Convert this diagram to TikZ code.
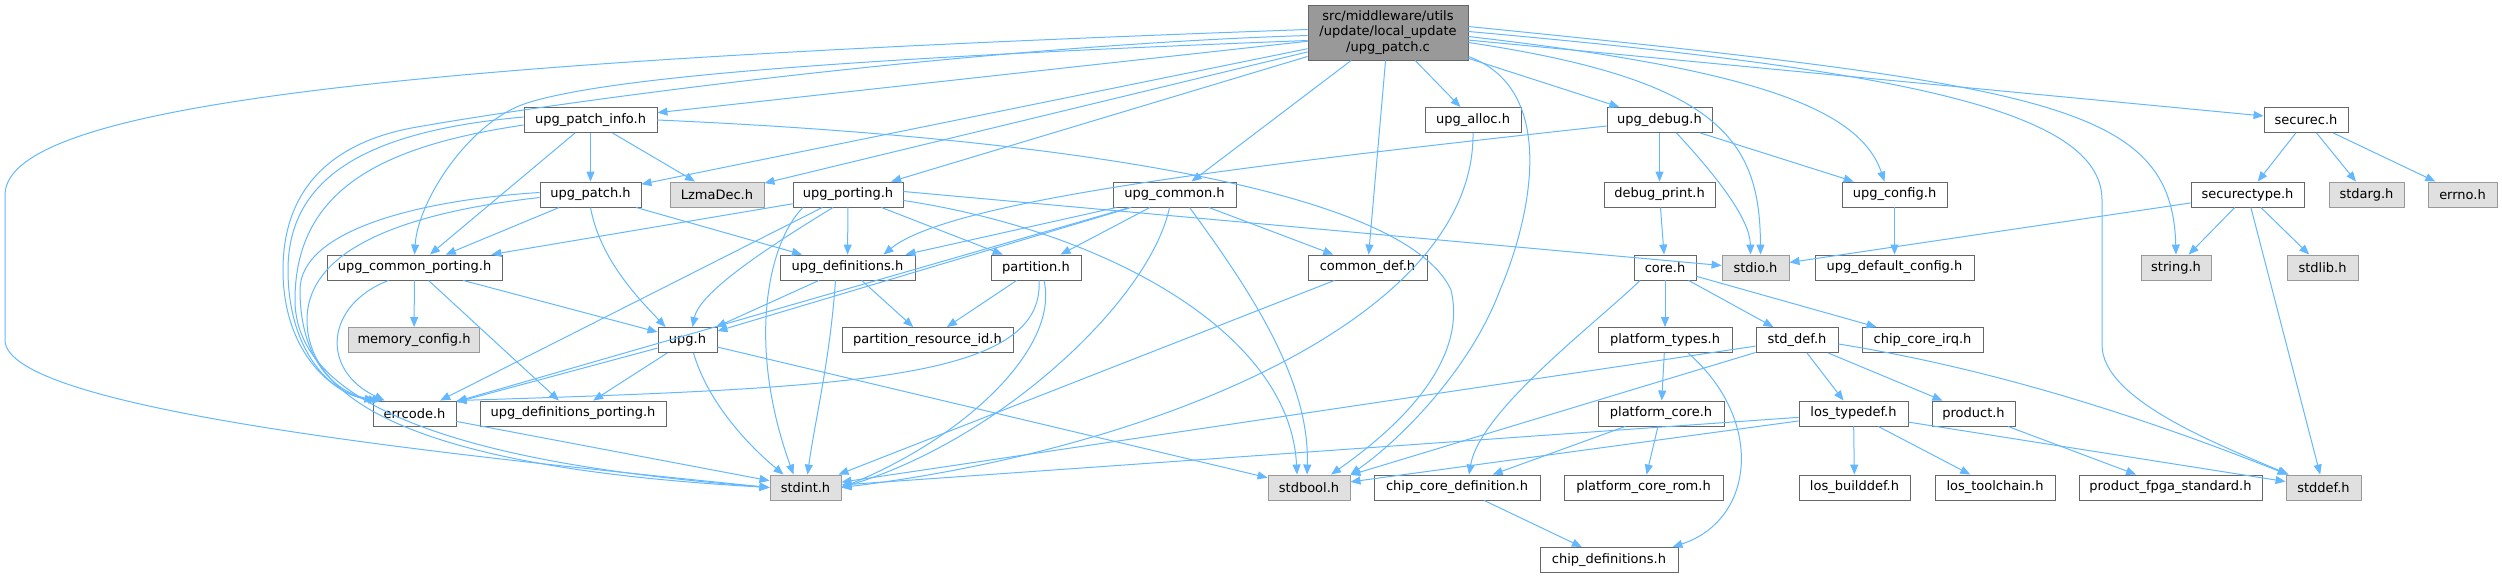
\documentclass[tikz,border=0pt]{standalone}
\usepackage{fontspec}
\setmainfont{DejaVu Sans}
\usetikzlibrary{arrows.meta,calc}
\definecolor{edgeblue}{HTML}{63B8FF}
\definecolor{boxline}{HTML}{666666}
\definecolor{sysfill}{HTML}{E0E0E0}
\definecolor{sysline}{HTML}{999999}
\definecolor{rootfill}{HTML}{999999}
\begin{document}
\begin{tikzpicture}[x=1pt,y=-1pt,
  lnk/.style={draw=edgeblue, line width=1pt, -{Triangle[length=10pt,width=8pt]}},
  hdr/.style={draw=boxline, line width=0.9pt, fill=white, minimum height=25pt, minimum width=#1, inner sep=0pt, font=\fontsize{13}{15}\selectfont, text=black},
  sys/.style={hdr=#1, fill=sysfill, draw=sysline},
]
\useasboundingbox (0,0) rectangle (2502,579);
% root
\node[hdr=160, fill=rootfill, minimum height=55pt, align=center, font=\fontsize{13}{15.5}\selectfont] (root) at (1388,32.5) {src/middleware/utils\\/update/local\_update\\/upg\_patch.c};
% row 1
\node[hdr=133] (pinfo) at (590.5,120) {upg\_patch\_info.h};
\node[hdr=96] (alloc) at (1473,120) {upg\_alloc.h};
\node[hdr=105] (debug) at (1659.5,120) {upg\_debug.h};
\node[hdr=84] (securec) at (2306,120) {securec.h};
% row 2
\node[hdr=101] (patch) at (590.5,194.5) {upg\_patch.h};
\node[sys=94] (lzma) at (717,194.5) {LzmaDec.h};
\node[hdr=110] (porting) at (848,194.5) {upg\_porting.h};
\node[hdr=123] (common) at (1174.5,194.5) {upg\_common.h};
\node[hdr=111] (dprint) at (1659.5,194.5) {debug\_print.h};
\node[hdr=105] (config) at (1894.5,194.5) {upg\_config.h};
\node[hdr=113] (sectype) at (2247.5,194.5) {securectype.h};
\node[sys=75] (stdarg) at (2366.5,194.5) {stdarg.h};
\node[sys=69] (errno) at (2462.5,194.5) {errno.h};
% row 3
\node[hdr=175] (cport) at (414.5,267.5) {upg\_common\_porting.h};
\node[hdr=135] (defs) at (847.5,267.5) {upg\_definitions.h};
\node[hdr=90] (partition) at (1036,267.5) {partition.h};
\node[hdr=119] (commondef) at (1367.5,267.5) {common\_def.h};
\node[hdr=62] (core) at (1665,267.5) {core.h};
\node[sys=67] (stdio) at (1755.5,267.5) {stdio.h};
\node[hdr=159] (defconfig) at (1894.5,267.5) {upg\_default\_config.h};
\node[sys=70] (string) at (2176,267.5) {string.h};
\node[sys=71] (stdlib) at (2322.5,267.5) {stdlib.h};
% row 4
\node[sys=131] (memcfg) at (414,340) {memory\_config.h};
\node[hdr=59] (upg) at (687.5,340) {upg.h};
\node[hdr=171] (partres) at (927.5,340) {partition\_resource\_id.h};
\node[hdr=134] (ptypes) at (1665,340) {platform\_types.h};
\node[hdr=82] (stddefh) at (1797,340) {std\_def.h};
\node[hdr=121] (irq) at (1922.5,340) {chip\_core\_irq.h};
% row 5
\node[hdr=83] (errcode) at (414.5,413.5) {errcode.h};
\node[hdr=186] (defsport) at (573,413.5) {upg\_definitions\_porting.h};
\node[hdr=126] (pcore) at (1661,413.5) {platform\_core.h};
\node[hdr=109] (lostype) at (1853.5,413.5) {los\_typedef.h};
\node[hdr=83] (product) at (1973.5,413.5) {product.h};
% row 6
\node[sys=71] (stdint) at (805.5,487.5) {stdint.h};
\node[sys=82] (stdbool) at (1309,487.5) {stdbool.h};
\node[hdr=166] (ccdef) at (1457,487.5) {chip\_core\_definition.h};
\node[hdr=159] (pcorerom) at (1643.5,487.5) {platform\_core\_rom.h};
\node[hdr=111] (losbuild) at (1854.5,487.5) {los\_builddef.h};
\node[hdr=120] (lostool) at (1995,487.5) {los\_toolchain.h};
\node[hdr=183] (fpga) at (2170.5,487.5) {product\_fpga\_standard.h};
\node[sys=75] (stddef) at (2323.5,487.5) {stddef.h};
% row 7
\node[hdr=138] (chipdefs) at (1609,560) {chip\_definitions.h};

% ---- edges from root
\draw[lnk] (root) -- (pinfo);
\draw[lnk] (root) -- (patch);
\draw[lnk] (root) -- (lzma);
\draw[lnk] (root) -- (porting);
\draw[lnk] (root) -- (common);
\draw[lnk] (root) -- (commondef);
\draw[lnk] (root) -- (alloc);
\draw[lnk] (root) -- (debug);
\draw[lnk] (root) -- (securec);
\draw[lnk] ([yshift=-10]root.east) .. controls (1720,80) and (1760,140) .. ([xshift=5]stdio.north);
\draw[lnk] ([yshift=-4]root.east) .. controls (1760,70) and (1860,110) .. ([xshift=-10]config.north);
\draw[lnk] ([yshift=6]root.east) .. controls (2050,85) and (2172,105) .. (string.north);
\draw[lnk] ([yshift=1]root.east) .. controls (1900,70) and (2102,110) .. (2102,200) -- (2102,345) .. controls (2102,400) and (2220,445) .. ([xshift=3]stddef.north west);
\draw[lnk] ([yshift=-24]root.east) .. controls (1560,90) and (1530,220) .. (1500,290) .. controls (1470,370) and (1400,440) .. (stdbool.north east);
\draw[lnk] ([yshift=3]root.west) .. controls (450,60) and (5,100) .. (5,195) -- (5,340) .. controls (5,410) and (450,455) .. (stdint.west);
\draw[lnk] ([yshift=-3]root.west) .. controls (1000,45) and (600,95) .. (417,127) .. controls (330,142) and (283,190) .. (283,270) .. controls (283,350) and (330,392) .. ([xshift=2]errcode.north west);
\draw[lnk] ([yshift=-8]root.west) .. controls (800,60) and (600,80) .. (527,103) .. controls (470,121) and (418,200) .. (cport.north);

% ---- upg_patch_info.h
\draw[lnk] (pinfo) -- (patch);
\draw[lnk] (pinfo) -- (lzma);
\draw[lnk] (pinfo) -- (cport);
\draw[lnk] ([yshift=3]pinfo.west) .. controls (380,130) and (288,170) .. (288,270) .. controls (288,350) and (330,395) .. ([xshift=6]errcode.north west);
\draw[lnk] ([yshift=-5]pinfo.west) .. controls (390,145) and (295,185) .. (295,300) .. controls (295,430) and (550,470) .. (stdint.west);
\draw[lnk] (pinfo.east) .. controls (1000,135) and (1400,180) .. (1451,290) .. controls (1470,370) and (1380,440) .. ([xshift=22]stdbool.north);

% ---- upg_patch.h
\draw[lnk] (patch) -- (cport);
\draw[lnk] (patch) -- (defs);
\draw[lnk] (patch.south) .. controls (600,260) and (640,300) .. ([xshift=8]upg.north west);
\draw[lnk] ([yshift=2]patch.west) .. controls (420,200) and (300,230) .. (300,290) .. controls (300,360) and (335,395) .. ([xshift=10]errcode.north west);
\draw[lnk] ([yshift=-3]patch.west) .. controls (430,210) and (307,240) .. (307,320) .. controls (307,440) and (550,475) .. (stdint.west);

% ---- upg_porting.h
\draw[lnk] (porting) -- (defs);
\draw[lnk] (porting) -- (partition);
\draw[lnk] (porting) -- (cport);
\draw[lnk] ([yshift=3]porting.east) -- ([yshift=2]stdio.west);
\draw[lnk] ([xshift=-15]porting.south) .. controls (780,240) and (700,290) .. ([xshift=5]upg.north);
\draw[lnk] (porting) -- (errcode);
\draw[lnk] ([xshift=-45]porting.south) .. controls (770,240) and (745,340) .. ([xshift=-12]stdint.north);
\draw[lnk] ([yshift=-6]porting.east) .. controls (1100,230) and (1290,330) .. ([xshift=-12]stdbool.north);

% ---- upg_common.h
\draw[lnk] (common) -- (defs);
\draw[lnk] (common) -- (partition);
\draw[lnk] (common) -- (commondef);
\draw[lnk] (common) -- (upg);
\draw[lnk] (common) -- (errcode);
\draw[lnk] ([xshift=-5]common.south) .. controls (1150,300) and (1000,440) .. (stdint.east);
\draw[lnk] ([xshift=15]common.south) .. controls (1250,290) and (1310,380) .. ([xshift=-2]stdbool.north);

% ---- upg_alloc.h
\draw[lnk] (alloc.south) .. controls (1475,320) and (1150,450) .. (stdint.east);

% ---- upg_debug.h
\draw[lnk] (debug) -- (dprint);
\draw[lnk] (debug) -- (config);
\draw[lnk] ([xshift=17]debug.south) .. controls (1720,180) and (1750,220) .. ([xshift=-5]stdio.north);
\draw[lnk] ([yshift=-6]debug.west) .. controls (1250,165) and (950,200) .. ([xshift=36]defs.north);

\draw[lnk] (dprint) -- (core);
\draw[lnk] (config) -- (defconfig);

% ---- securec
\draw[lnk] (securec) -- (sectype);
\draw[lnk] (securec) -- (stdarg);
\draw[lnk] (securec) -- (errno);
\draw[lnk] (sectype) -- (string);
\draw[lnk] (sectype) -- (stdlib);
\draw[lnk] (sectype) -- (stddef);
\draw[lnk] (sectype) -- (stdio);

% ---- upg_common_porting.h
\draw[lnk] (cport) -- (memcfg);
\draw[lnk] (cport) -- (upg);
\draw[lnk] (cport) -- (defsport);
\draw[lnk] ([xshift=-26]cport.south) .. controls (325,305) and (320,370) .. ([xshift=-30]errcode.north);

% ---- upg_definitions.h
\draw[lnk] (defs) -- (upg);
\draw[lnk] (defs) -- (partres);
\draw[lnk] ([xshift=-12]defs.south) .. controls (830,360) and (815,420) .. ([xshift=2]stdint.north);

% ---- partition.h
\draw[lnk] (partition) -- (partres);
\draw[lnk] ([xshift=8]partition.south) .. controls (1060,350) and (960,440) .. (stdint.east);
\draw[lnk] ([xshift=3]partition.south) .. controls (1045,380) and (850,388) .. (errcode.north east);

\draw[lnk] (commondef) -- (stdint);

% ---- core.h
\draw[lnk] (core) -- (ptypes);
\draw[lnk] (core) -- (stddefh);
\draw[lnk] (core) -- (irq);
\draw[lnk] ([xshift=-25]core.south) .. controls (1600,320) and (1480,410) .. ([xshift=12]ccdef.north);

% ---- upg.h
\draw[lnk] (upg) -- (errcode);
\draw[lnk] (upg) -- (defsport);
\draw[lnk] (upg) -- (stdbool);
\draw[lnk] ([xshift=6]upg.south) .. controls (710,410) and (760,455) .. ([xshift=-22]stdint.north);
\draw[lnk] (errcode) -- (stdint);

% ---- platform
\draw[lnk] (ptypes) -- (pcore);
\draw[lnk] ([xshift=23]ptypes.south) .. controls (1765,420) and (1755,520) .. ([xshift=-6]chipdefs.north east);
\draw[lnk] (pcore) -- (ccdef);
\draw[lnk] (pcore) -- (pcorerom);
\draw[lnk] (ccdef) -- (chipdefs);

% ---- std_def.h
\draw[lnk] (stddefh) -- (lostype);
\draw[lnk] (stddefh) -- (product);
\draw[lnk] (stddefh) -- (stdint);
\draw[lnk] (stddefh) -- (stdbool);
\draw[lnk] ([yshift=-4]stddefh.east) .. controls (2000,370) and (2150,420) .. ([xshift=2]stddef.north west);

% ---- los_typedef.h
\draw[lnk] (lostype) -- (losbuild);
\draw[lnk] (lostype) -- (lostool);
\draw[lnk] (lostype) -- (stdint);
\draw[lnk] (lostype) -- (stdbool);
\draw[lnk] (lostype) -- (stddef);
\draw[lnk] (product) -- (fpga);
\end{tikzpicture}
\end{document}
